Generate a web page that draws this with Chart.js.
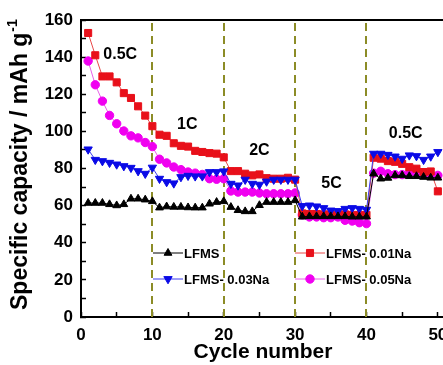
<!DOCTYPE html>
<html>
<head>
<meta charset="utf-8">
<script src="https://cdn.jsdelivr.net/npm/chart.js"></script>
<style>
  html, body { margin: 0; padding: 0; background: #fff; overflow: hidden; }
  #wrap { position: relative; width: 460px; height: 365px; }
</style>
</head>
<body>
<div id="wrap"><canvas id="rateChart"></canvas></div>
<script>
/* ============================================
   DATA
============================================ */
const cycles = [1, 2, 3, 4, 5, 6, 7, 8, 9, 10,
    11, 12, 13, 14, 15, 16, 17, 18, 19, 20,
    21, 22, 23, 24, 25, 26, 27, 28, 29, 30,
    31, 32, 33, 34, 35, 36, 37, 38, 39, 40,
    41, 42, 43, 44, 45, 46, 47, 48, 49, 50];

const lfms = [61.4, 61.4, 61.4, 60.7, 60.1, 60.7, 63.7, 63.7, 63.2, 62.3,
    58.9, 59.5, 59.3, 59.3, 59.0, 58.9, 58.9, 61.0, 61.9, 62.3,
    59.2, 57.5, 56.9, 56.9, 60.2, 61.9, 61.9, 61.9, 61.9, 62.8,
    54.0, 54.2, 54.2, 54.2, 54.2, 54.2, 54.2, 54.0, 54.0, 54.0,
    77.2, 74.5, 74.9, 76.3, 76.3, 75.8, 75.8, 75.4, 75.0, 75.0];

const lfmsNa01 = [153.0, 141.0, 129.6, 129.6, 126.4, 120.6, 118.0, 113.5, 108.5, 102.8,
    98.2, 97.6, 93.6, 92.2, 91.8, 89.5, 88.9, 88.3, 88.0, 86.0,
    78.6, 78.6, 77.2, 76.3, 76.8, 74.8, 74.5, 74.5, 75.0, 74.0,
    55.8, 55.5, 55.5, 55.3, 55.3, 55.3, 55.3, 55.0, 55.0, 55.0,
    85.8, 85.3, 84.0, 83.6, 82.5, 80.7, 79.9, 78.1, 78.4, 67.7];

const lfmsNa03 = [90.3, 84.7, 84.0, 83.1, 82.2, 81.3, 80.4, 78.6, 77.2, 80.5,
    74.5, 72.7, 72.0, 75.4, 76.1, 75.8, 75.8, 78.1, 78.1, 78.5,
    71.8, 70.9, 74.0, 71.8, 71.3, 73.0, 74.0, 74.0, 74.0, 74.0,
    59.8, 60.1, 59.6, 58.7, 57.4, 57.1, 58.3, 58.7, 58.3, 57.8,
    88.0, 88.0, 87.4, 86.5, 85.3, 87.1, 86.7, 84.7, 86.5, 88.9];

const lfmsNa05 = [137.9, 125.1, 116.3, 108.6, 104.1, 100.2, 97.6, 96.5, 94.0, 91.8,
    85.0, 83.0, 80.8, 79.4, 78.1, 77.5, 76.8, 74.5, 74.2, 74.5,
    67.9, 67.3, 67.3, 67.3, 66.8, 66.4, 66.4, 66.4, 66.4, 66.8,
    55.0, 53.9, 53.9, 53.5, 53.5, 53.9, 52.1, 51.7, 50.8, 50.3,
    77.5, 78.5, 77.2, 76.7, 76.7, 77.6, 77.6, 77.2, 76.8, 76.3];

const xTickLabels = [0, 10, 20, 30, 40, 50];
const yTickLabels = [0, 20, 40, 60, 80, 100, 120, 140, 160];
const rateSteps = [10, 20, 30, 40];
const rateLabels = ['0.5C', '1C', '2C', '5C', '0.5C'];

/* ============================================
   STYLE
============================================ */
const FONT = "'Liberation Sans', Arial, sans-serif";
const DASH_COLOR = '#8c8c26';

function toXY(values) {
    return values.map((v, i) => ({ x: cycles[i], y: v }));
}

/* ============================================
   PLUGINS (frame, dashed steps, labels, legend)
============================================ */
const decorPlugin = {
    id: 'decor',
    beforeDatasetsDraw(chart) {
        const { ctx, chartArea: a, scales: { x } } = chart;
        ctx.save();
        ctx.strokeStyle = DASH_COLOR;
        ctx.lineWidth = 2;
        ctx.setLineDash([8, 5]);
        rateSteps.forEach(v => {
            const px = Math.round(x.getPixelForValue(v));
            ctx.beginPath();
            ctx.moveTo(px, a.top + 3);
            ctx.lineTo(px, a.bottom);
            ctx.stroke();
        });
        ctx.restore();
    },
    afterDatasetsDraw(chart) {
        const { ctx, chartArea: a, scales: { x, y } } = chart;
        ctx.save();
        // top frame line
        ctx.strokeStyle = '#000';
        ctx.lineWidth = 2;
        ctx.beginPath();
        ctx.moveTo(a.left, a.top);
        ctx.lineTo(a.right + 20, a.top);
        ctx.stroke();

        // C-rate labels, anchored in data units
        const anchors = [[5.5, 141.6], [14.9, 103.8], [25.0, 89.7], [35.1, 71.9], [45.5, 98.9]];
        ctx.fillStyle = '#000';
        ctx.font = 'bold 16px ' + FONT;
        ctx.textAlign = 'center';
        ctx.textBaseline = 'middle';
        rateLabels.forEach((t, i) => {
            ctx.fillText(t, x.getPixelForValue(anchors[i][0]), y.getPixelForValue(anchors[i][1]));
        });

        // legend, two columns inside the plot
        const slots = [[153, 253], [295, 253], [153, 279], [295, 279]];
        const order = [0, 2, 1, 3];
        ctx.textAlign = 'left';
        ctx.font = 'bold 13px ' + FONT;
        order.forEach((dsIndex, k) => {
            const ds = chart.data.datasets[dsIndex];
            const [lx, ly] = slots[k];
            ctx.strokeStyle = ds.borderColor;
            ctx.lineWidth = 1;
            ctx.setLineDash([]);
            ctx.beginPath();
            ctx.moveTo(lx, ly);
            ctx.lineTo(lx + 30, ly);
            ctx.stroke();
            ctx.fillStyle = ds.pointBackgroundColor;
            ctx.strokeStyle = ds.pointBackgroundColor;
            Chart.helpers.drawPoint(ctx, {
                pointStyle: ds.pointStyle,
                rotation: ds.pointRotation || 0,
                radius: ds.pointRadius,
                borderWidth: 1
            }, lx + 15, ly);
            ctx.fillStyle = '#000';
            ctx.fillText(ds.label, lx + 31, ly + 1);
        });

        // y title with superscript
        ctx.translate(27, 310);
        ctx.rotate(-Math.PI / 2);
        ctx.textBaseline = 'alphabetic';
        ctx.font = 'bold 23px ' + FONT;
        const main = 'Specific capacity / mAh g';
        ctx.fillText(main, 0, 0);
        const w = ctx.measureText(main).width;
        ctx.font = 'bold 14px ' + FONT;
        ctx.fillText('-1', w + 1, -10);
        ctx.restore();
    }
};

/* ============================================
   CHART
============================================ */
function initRateChart() {
    const canvas = document.getElementById('rateChart');
    if (!canvas) return;

    const line = (label, data, color, lineColor, style, radius, rotation) => ({
        label,
        data: toXY(data),
        borderColor: lineColor,
        borderWidth: 1,
        pointStyle: style,
        pointRadius: radius,
        pointRotation: rotation,
        pointBackgroundColor: color,
        pointBorderColor: color,
        pointBorderWidth: 1,
        tension: 0,
        clip: false
    });

    new Chart(canvas.getContext('2d'), {
        type: 'line',
        data: {
            datasets: [
                line('LFMS', lfms, '#000000', '#000000', 'triangle', 4.5, 0),
                line('LFMS- 0.03Na', lfmsNa03, '#0a0ae6', '#3c3cf0', 'triangle', 4.8, 180),
                line('LFMS- 0.01Na', lfmsNa01, '#e8101a', '#e84848', 'rect', 5, 0),
                line('LFMS- 0.05Na', lfmsNa05, '#f000f0', '#e860e8', 'circle', 4.2, 0)
            ]
        },
        options: {
            responsive: true,
            maintainAspectRatio: false,
            animation: false,
            layout: { padding: { top: 20, right: 15, bottom: 0, left: 0 } },
            plugins: {
                legend: { display: false },
                tooltip: { enabled: false }
            },
            scales: {
                x: {
                    type: 'linear',
                    min: 0,
                    max: 51,
                    afterFit: s => { s.height = 48; s.paddingLeft = 0; s.paddingRight = 0; },
                    grid: {
                        drawOnChartArea: false,
                        tickLength: -5,
                        tickColor: '#000',
                        tickWidth: 1.5
                    },
                    border: { color: '#000', width: 2 },
                    ticks: {
                        stepSize: 5,
                        includeBounds: false,
                        padding: 13,
                        maxRotation: 0,
                        autoSkip: false,
                        color: '#000',
                        font: { family: FONT, size: 17, weight: 'bold' },
                        callback: v => xTickLabels.includes(v) ? String(v) : ''
                    },
                    title: {
                        display: true,
                        text: 'Cycle number',
                        color: '#000',
                        font: { family: FONT, size: 21, weight: 'bold' },
                        padding: 0
                    }
                },
                y: {
                    min: 0,
                    max: 160,
                    afterFit: s => { s.width = 81; s.paddingTop = 0; s.paddingBottom = 0; },
                    grid: {
                        drawOnChartArea: false,
                        tickLength: -5,
                        tickColor: '#000',
                        tickWidth: 1.5
                    },
                    border: { color: '#000', width: 2 },
                    ticks: {
                        stepSize: 10,
                        padding: 13,
                        autoSkip: false,
                        color: '#000',
                        font: { family: FONT, size: 17, weight: 'bold' },
                        callback: v => yTickLabels.includes(v) ? String(v) : ''
                    }
                }
            }
        },
        plugins: [decorPlugin]
    });
}

document.addEventListener('DOMContentLoaded', initRateChart);
</script>
</body>
</html>
